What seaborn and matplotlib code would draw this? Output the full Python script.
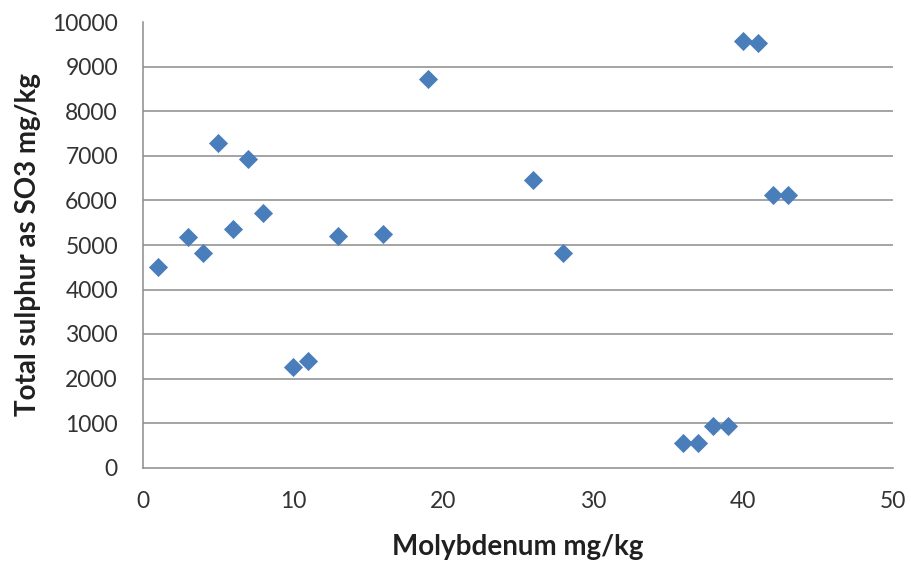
import matplotlib
matplotlib.use("Agg")
import matplotlib.pyplot as plt
import seaborn as sns
import pandas as pd

# Molybdenum vs total sulphur measurements
molybdenum = [1, 3, 4, 5, 6, 7, 8, 10, 11, 13, 16, 19, 26, 28,
              36, 37, 38, 39, 40, 41, 42, 43]
sulphur_so3 = [4500, 5180, 4810, 7300, 5360, 6930, 5720, 2260, 2400, 5210, 5250, 8720,
               6470, 4810, 550, 550, 930, 930, 9580, 9530, 6120, 6120]

x_ticks = [0, 10, 20, 30, 40, 50]
y_ticks = [0, 1000, 2000, 3000, 4000, 5000, 6000, 7000, 8000, 9000, 10000]

df = pd.DataFrame({"Molybdenum mg/kg": molybdenum,
                   "Total sulphur as SO3 mg/kg": sulphur_so3})

sns.set_theme(style="white")
plt.rcParams["font.family"] = ["Lato", "DejaVu Sans"]

fig = plt.figure(figsize=(9.12, 5.61), dpi=100)
ax = fig.add_axes([143 / 912, (561 - 467.5) / 561, (893 - 143) / 912, (467.5 - 22.5) / 561])

grid_color = "#8c8c8c"
for yv in y_ticks[1:]:
    ax.axhline(yv, color=grid_color, lw=1.1, zorder=0)

sns.scatterplot(data=df, x="Molybdenum mg/kg", y="Total sulphur as SO3 mg/kg",
                marker="D", s=95, color="#4a7ebb", linewidth=0, ax=ax, zorder=3)

ax.set_xlim(0, 50)
ax.set_ylim(0, 10000)
ax.set_xticks(x_ticks)
ax.set_yticks(y_ticks)
ax.tick_params(axis="both", length=0, labelsize=16.5, colors="#333333")
ax.tick_params(axis="x", pad=17)
ax.tick_params(axis="y", pad=18)

for side in ["top", "right"]:
    ax.spines[side].set_visible(False)
for side in ["left", "bottom"]:
    ax.spines[side].set_color(grid_color)
    ax.spines[side].set_linewidth(1.1)

ax.set_xlabel("Molybdenum mg/kg", fontsize=20, fontweight="bold", color="#202020", labelpad=16)
ax.set_ylabel("Total sulphur as SO3 mg/kg", fontsize=20, fontweight="bold", color="#202020", labelpad=8)

fig.savefig("out.png", dpi=100, facecolor="white")
